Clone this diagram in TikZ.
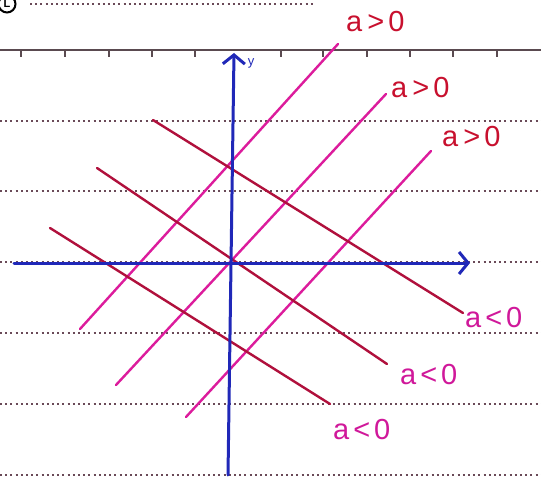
\documentclass[tikz,border=0pt]{standalone}
\usepackage{fontspec}
\setmainfont{Liberation Sans}
\usetikzlibrary{arrows.meta}
\definecolor{axisblue}{HTML}{2028B8}
\definecolor{pinkline}{HTML}{DC1C9C}
\definecolor{redline}{HTML}{B0103C}
\definecolor{redlab}{HTML}{C8102E}
\definecolor{pinklab}{HTML}{D0189A}
\definecolor{ruleline}{HTML}{5A4A50}
\definecolor{dotline}{HTML}{6A4A58}
\tikzset{
  dotrule/.style={draw=dotline, line width=1.8pt, dash pattern=on 2pt off 3.2pt},
  solidrule/.style={draw=ruleline, line width=1.8pt},
  axisline/.style={draw=axisblue, line width=3pt, line cap=round},
  posline/.style={draw=pinkline, line width=2.4pt, line cap=round},
  negline/.style={draw=redline, line width=2.4pt, line cap=round},
  poslab/.style={text=redlab, font=\fontsize{29}{29}\selectfont, inner sep=0pt, anchor=west},
  neglab/.style={text=pinklab, font=\fontsize{29}{29}\selectfont, inner sep=0pt, anchor=west},
}
\newcommand{\gtz}{a\hspace{5pt}>\hspace{4pt}0}
\newcommand{\ltz}{a\hspace{4pt}<\hspace{4pt}0}
\begin{document}
\begin{tikzpicture}[x=1pt,y=-1pt]
\useasboundingbox (0,0) rectangle (541,484);
\fill[white] (0,0) rectangle (541,484);
% ruled paper
\draw[dotrule] (30,4) -- (315,4);
\foreach \yy in {121,191,262,333,404,475} \draw[dotrule] (0,\yy) -- (541,\yy);
\draw[solidrule] (0,50) -- (541,50);
\foreach \xx in {21,65,109,152,195,281,323,367,410,453,497} \draw[solidrule,line width=1.8pt] (\xx,50) -- (\xx,57);
\node[circle, draw=black, line width=2pt, minimum size=17pt, inner sep=0pt, font=\bfseries\fontsize{11}{11}\selectfont] (circL) at (7,4) {L};
% coordinates
\coordinate (xl) at (14,263);
\coordinate (xr) at (470,263);
\coordinate (yb) at (228,475);
\coordinate (yt) at (234,53);
\coordinate (p1a) at (80,329); \coordinate (p1b) at (338,44);
\coordinate (p2a) at (116,385); \coordinate (p2b) at (386,94);
\coordinate (p3a) at (186,417); \coordinate (p3b) at (431,151);
\coordinate (n1a) at (153,120); \coordinate (n1b) at (463,313);
\coordinate (n2a) at (97,168); \coordinate (n2b) at (387,364);
\coordinate (n3a) at (50,228); \coordinate (n3b) at (330,404);
% lines
\draw[posline] (p1a) -- (p1b);
\draw[posline] (p2a) -- (p2b);
\draw[posline] (p3a) -- (p3b);
\draw[negline] (n1a) -- (n1b);
\draw[negline] (n2a) -- (n2b);
\draw[negline] (n3a) -- (n3b);
% axes
\draw[axisline, -{Straight Barb[length=9pt,width=22pt,line width=3pt]}] (xl) -- (xr);
\draw[axisline, -{Straight Barb[length=9pt,width=22pt,line width=3pt]}] (yb) -- (yt);
\node[text=axisblue, font=\fontsize{13}{13}\selectfont, inner sep=0pt] (ylab) at (251,63) {y};
% labels
\node[poslab] (lp1) at (346,22) {\gtz};
\node[poslab] (lp2) at (391,88) {\gtz};
\node[poslab] (lp3) at (442,137) {\gtz};
\node[neglab] (ln1) at (465,318) {\ltz};
\node[neglab] (ln2) at (400,375) {\ltz};
\node[neglab] (ln3) at (333,430) {\ltz};
\end{tikzpicture}
\end{document}
